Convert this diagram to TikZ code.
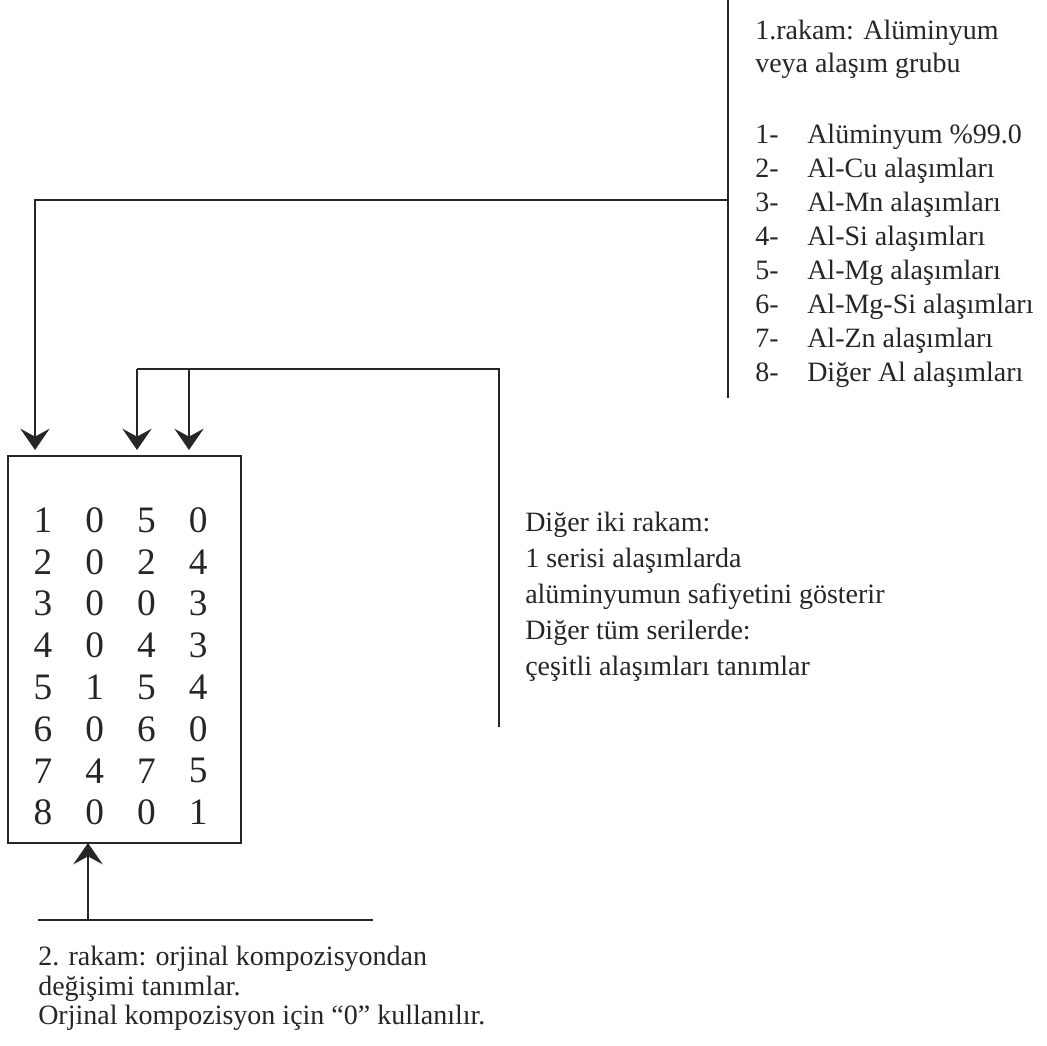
\documentclass[tikz,border=0pt]{standalone}
\usepackage{fontspec}
\setmainfont{Liberation Serif}
\usetikzlibrary{arrows.meta,positioning}

\begin{document}
\begin{tikzpicture}[
  x=0.75pt, y=-0.75pt,
  >=Stealth,
  % --- texts ---
  txt/.style={font=\fontsize{21}{25}\selectfont, text=black!85, inner sep=0pt, anchor=base west},
  digit/.style={font=\fontsize{28}{30}\selectfont, text=black!85, inner sep=0pt},
  % --- lines ---
  ln/.style={line width=1.3pt, draw=black!85},
  arr/.style={ln, -{Stealth[length=16pt, width=22pt, inset=6pt]}},
  codebox/.style={draw=black!85, line width=1.3pt, inner sep=0pt,
    minimum width=174.75pt, minimum height=290.25pt},
]
\useasboundingbox (0,0) rectangle (1047,1046);

% ===================== CODE BOX =====================

\node[codebox] (code) at (124.5,649.5) {};

\foreach \r [count=\i] in {{1,0,5,0},{2,0,2,4},{3,0,0,3},{4,0,4,3},
                            {5,1,5,4},{6,0,6,0},{7,4,7,5},{8,0,0,1}}{
  \foreach \d [count=\j] in \r {
    \node[digit] (d\i\j) at ({43+51.7*(\j-1)}, {520+41.8*(\i-1)}) {\d};
  }
}

% ===================== 1st DIGIT =====================

\node[txt] (grp1) at (755,39) {1.rakam: Alüminyum};
\node[txt] (grp2) at (755,72) {veya alaşım grubu};

\foreach \lbl [count=\i] in {Alüminyum \%99.0, Al-Cu alaşımları, Al-Mn alaşımları,
    Al-Si alaşımları, Al-Mg alaşımları, Al-Mg-Si alaşımları, Al-Zn alaşımları,
    Diğer Al alaşımları}{
  \node[txt] (n\i) at (755, {143+34*(\i-1)}) {\i-};
  \node[txt] (g\i) at (807, {143+34*(\i-1)}) {\lbl};
}

\coordinate (v1top) at (728,0);
\coordinate (v1bot) at (728,398);
\coordinate (j1) at (728,200);
\coordinate (t1) at (35,450);

\draw[ln] (v1top) -- (v1bot);
\draw[arr] (j1) -| (t1);

% ===================== LAST TWO DIGITS =====================

\node[txt] (oth1) at (525,531) {Diğer iki rakam:};
\node[txt] (oth2) at (525,567) {1 serisi alaşımlarda};
\node[txt] (oth3) at (525,603) {alüminyumun safiyetini gösterir};
\node[txt] (oth4) at (525,639) {Diğer tüm serilerde:};
\node[txt] (oth5) at (525,675) {çeşitli alaşımları tanımlar};

\coordinate (v2top) at (499,369);
\coordinate (v2bot) at (499,727);
\coordinate (t2) at (137,450);
\coordinate (t3) at (189,450);

\draw[ln] (v2bot) -- (v2top) -- (t2 |- v2top);
\draw[arr] (t2 |- v2top) -- (t2);
\draw[arr] (t3 |- v2top) -- (t3);

% ===================== 2nd DIGIT =====================

\coordinate (b1) at (38,920);
\coordinate (b2) at (373,920);
\coordinate (t4) at (88,843);

\draw[ln] (b1) -- (b2);
\draw[arr] (t4 |- b1) -- (t4);

\node[txt] (mod1) at (38,965) {2. rakam: orjinal kompozisyondan};
\node[txt] (mod2) at (38,995) {değişimi tanımlar.};
\node[txt] (mod3) at (38,1024) {Orjinal kompozisyon için “0” kullanılır.};

\end{tikzpicture}
\end{document}
